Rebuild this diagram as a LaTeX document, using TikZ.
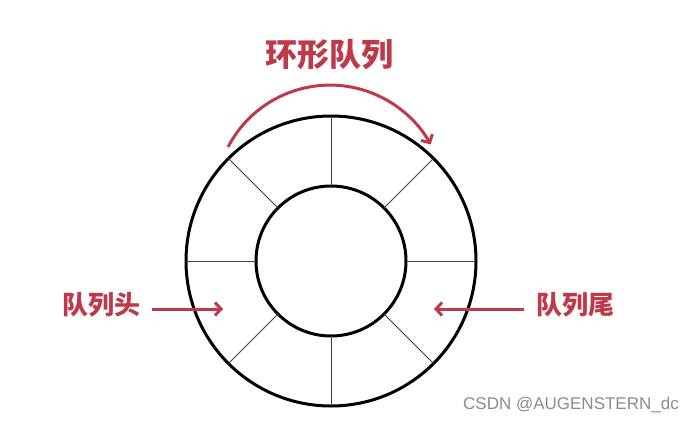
\documentclass[tikz,border=0pt]{standalone}
\usepackage{fontspec}
\usepackage{xcolor}
\usepackage{tikz}
\usetikzlibrary{arrows.meta}
\setmainfont{Liberation Sans}
\newfontfamily\cjk{Noto Sans CJK SC}
\definecolor{qred}{HTML}{BE3A4A}
\newcommand{\spoke}[1]{\draw[spokeline] ([shift={(#1:75)}]c) -- ([shift={(#1:145)}]c)}

\begin{document}
\begin{tikzpicture}[x=1pt,y=-1pt,
    ring/.style={line width=3pt,black},
    spokeline/.style={line width=0.8pt,black!75},
    qarrow/.style={qred,line width=3pt,-{Straight Barb[length=6pt,width=13pt,line width=3pt]}},
    titletext/.style={qred,font=\cjk\bfseries\fontsize{32}{36}\selectfont,inner sep=0pt},
    sidetext/.style={qred,font=\cjk\bfseries\fontsize{26}{30}\selectfont,inner sep=0pt},
    wmtext/.style={black!45,font=\fontsize{17}{20}\selectfont,inner sep=0pt}]
    \useasboundingbox (0,0) rectangle (694,423);
    \fill[white] (0,0) rectangle (694,423);

    % the ring
    \coordinate (c) at (331,261);
    \draw[ring] (c) circle[radius=145];
    \draw[ring] (c) circle[radius=75];
    \foreach \a in {0,45,...,315} {
      \spoke{\a};
    }

    % labels
    \node[titletext] (ttl) at (329,55) {环形队列};
    \node[sidetext] (head) at (101,305) {队列头};
    \node[sidetext] (tail) at (575,305) {队列尾};
    \node[wmtext,anchor=east] (wm) at (679,405) {CSDN @AUGENSTERN\_dc};

    % arrows
    \coordinate (arcstart) at (228,147);
    \coordinate (headtip) at (223,309);
    \coordinate (tailtip) at (434,309);
    \draw[qarrow] (arcstart) arc[start angle=207.5, end angle=331, radius=115];
    \draw[qarrow] ([xshift=12pt]head.east |- headtip) -- (headtip);
    \draw[qarrow] ([xshift=-12pt]tail.west |- tailtip) -- (tailtip);
  \end{tikzpicture}
\end{document}
